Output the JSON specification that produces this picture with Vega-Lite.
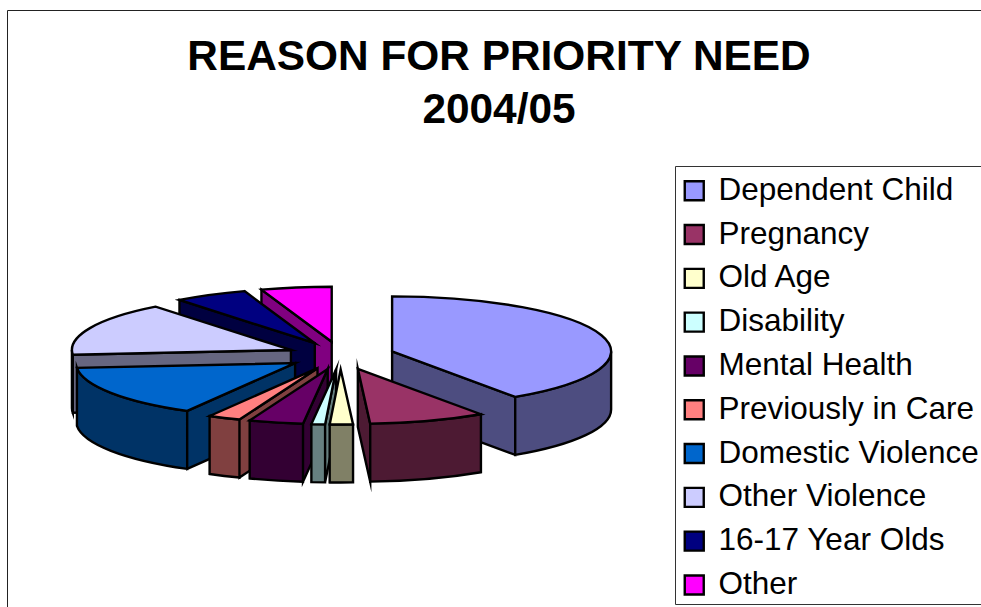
{
  "$schema": "https://vega.github.io/schema/vega-lite/v6.json",
  "width": 974,
  "height": 597,
  "autosize": "none",
  "padding": {"left": 7, "top": 10, "right": 0, "bottom": 0},
  "background": "white",
  "title": {
    "text": ["REASON FOR PRIORITY NEED", "2004/05"],
    "anchor": "middle",
    "frame": "group",
    "orient": "top",
    "baseline": "top",
    "offset": 0,
    "dx": 5,
    "dy": 122,
    "font": "Liberation Sans",
    "fontSize": 42.4,
    "fontWeight": "bold",
    "lineHeight": 53,
    "color": "black"
  },
  "view": {"stroke": "#222", "strokeWidth": 1, "fill": "white"},
  "data": {
    "values": [
      {"reason": "Dependent Child", "share": 40.5},
      {"reason": "Pregnancy", "share": 8.6},
      {"reason": "Old Age", "share": 1.7},
      {"reason": "Disability", "share": 1.0},
      {"reason": "Mental Health", "share": 4.0},
      {"reason": "Previously in Care", "share": 2.4},
      {"reason": "Domestic Violence", "share": 15.4},
      {"reason": "Other Violence", "share": 15.8},
      {"reason": "16-17 Year Olds", "share": 5.4},
      {"reason": "Other", "share": 5.2}
    ]
  },
  "transform": [
    {"joinaggregate": [{"op": "sum", "field": "share", "as": "total"}]},
    {"window": [{"op": "sum", "field": "share", "as": "running"}], "frame": [null, 0]},
    {"calculate": "(datum.running - datum.share) / datum.total * 2 * PI", "as": "a1"},
    {"calculate": "datum.running / datum.total * 2 * PI", "as": "a2"},
    {"calculate": "(datum.a1 + datum.a2) / 2", "as": "mid"},
    {"calculate": "54 * sin(datum.mid)", "as": "offx"},
    {"calculate": "-14 * cos(datum.mid)", "as": "offy"},
    {"calculate": "round(21900 * sin(datum.a1)) / 100", "as": "sx"},
    {"calculate": "round(-5500 * cos(datum.a1)) / 100", "as": "sy"},
    {"calculate": "round(21900 * sin(datum.a2)) / 100", "as": "ex"},
    {"calculate": "round(-5500 * cos(datum.a2)) / 100", "as": "ey"},
    {"calculate": "max(datum.a1, PI / 2)", "as": "r1"},
    {"calculate": "min(datum.a2, 3 * PI / 2)", "as": "r2"},
    {"calculate": "round(21900 * sin(datum.r1)) / 100", "as": "rx1"},
    {"calculate": "round(-5500 * cos(datum.r1)) / 100", "as": "ry1"},
    {"calculate": "round(21900 * sin(datum.r2)) / 100", "as": "rx2"},
    {"calculate": "round(-5500 * cos(datum.r2)) / 100", "as": "ry2"},
    {
      "calculate": "'M0,0L' + datum.sx + ',' + datum.sy + 'A219,55 0 0 1 ' + datum.ex + ',' + datum.ey + 'Z'",
      "as": "topFace"
    },
    {
      "calculate": "(sin(datum.a2) > 0 ? 'M0,0L' + datum.ex + ',' + datum.ey + 'L' + datum.ex + ',' + (datum.ey + 58) + 'L0,58Z' : '') + (sin(datum.a1) < 0 ? 'M0,0L' + datum.sx + ',' + datum.sy + 'L' + datum.sx + ',' + (datum.sy + 58) + 'L0,58Z' : '') + (datum.r1 < datum.r2 ? 'M' + datum.rx1 + ',' + datum.ry1 + 'A219,55 0 0 1 ' + datum.rx2 + ',' + datum.ry2 + 'L' + datum.rx2 + ',' + (datum.ry2 + 58) + 'A219,55 0 0 0 ' + datum.rx1 + ',' + (datum.ry1 + 58) + 'Z' : '')",
      "as": "sideFace"
    },
    {"fold": ["sideFace", "topFace"], "as": ["face", "outline"]},
    {"calculate": "datum.face == 'sideFace' ? datum.reason + ' side' : datum.reason", "as": "tone"},
    {"calculate": "datum.offy + (datum.face == 'topFace' ? 0.001 : 0)", "as": "paint"}
  ],
  "mark": {
    "type": "point",
    "filled": true,
    "opacity": 1,
    "stroke": "black",
    "strokeWidth": 2.4,
    "strokeJoin": "miter",
    "strokeMiterLimit": 10,
    "clip": false
  },
  "encoding": {
    "x": {"field": "offx", "type": "quantitative", "axis": null, "scale": {"domain": [-333.5, 640.5], "nice": false, "zero": false}},
    "y": {"field": "offy", "type": "quantitative", "axis": null, "scale": {"domain": [-345.5, 251.5], "reverse": true, "nice": false, "zero": false}},
    "shape": {"field": "outline", "type": "nominal", "scale": null},
    "size": {"value": 4},
    "order": {"field": "paint", "type": "quantitative"},
    "fill": {
      "field": "tone",
      "type": "nominal",
      "scale": {
        "domain": [
          "Dependent Child", "Pregnancy", "Old Age", "Disability", "Mental Health",
          "Previously in Care", "Domestic Violence", "Other Violence", "16-17 Year Olds", "Other",
          "Dependent Child side", "Pregnancy side", "Old Age side", "Disability side", "Mental Health side",
          "Previously in Care side", "Domestic Violence side", "Other Violence side", "16-17 Year Olds side", "Other side"
        ],
        "range": [
          "#9999FF", "#993366", "#FFFFCC", "#CCFFFF", "#660066",
          "#FF8080", "#0066CC", "#CCCCFF", "#000080", "#FF00FF",
          "#4D4D80", "#4D1A33", "#808066", "#668080", "#330033",
          "#804040", "#003366", "#666680", "#000040", "#800080"
        ]
      },
      "legend": {
        "title": " ",
        "titleFontSize": 1,
        "titlePadding": 5,
        "orient": "none",
        "legendX": 668,
        "legendY": 156,
        "values": [
          "Dependent Child", "Pregnancy", "Old Age", "Disability", "Mental Health",
          "Previously in Care", "Domestic Violence", "Other Violence", "16-17 Year Olds", "Other"
        ],
        "symbolType": "square",
        "symbolSize": 361,
        "symbolStrokeColor": "black",
        "symbolStrokeWidth": 2.4,
        "symbolOpacity": 1,
        "symbolOffset": 0.5,
        "labelFont": "Liberation Sans",
        "labelFontSize": 31.5,
        "labelColor": "black",
        "labelOffset": 8.5,
        "labelLimit": 400,
        "encoding": {"labels": {"update": {"dx": {"value": -6}}}},
        "rowPadding": 10.8,
        "padding": 3,
        "strokeColor": "#333",
        "fillColor": "white"
      }
    }
  }
}
